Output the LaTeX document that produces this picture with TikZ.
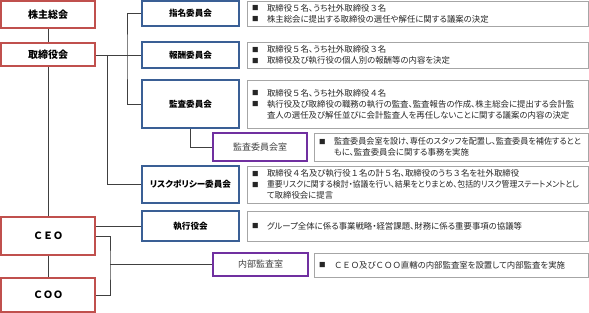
\documentclass[tikz,border=0pt]{standalone}
\usepackage{fontspec}
\setmainfont{Noto Sans CJK JP}[RawFeature=+palt]
\newfontfamily\widefont{Noto Sans CJK JP}
\usepackage{xcolor}
\usepackage{graphicx}
\usepackage{tikz}
\usetikzlibrary{positioning, calc}

\definecolor{orgred}{HTML}{C0504D}
\definecolor{orgblue}{HTML}{3A5F95}
\definecolor{orgpurple}{HTML}{7030A0}
\definecolor{descgray}{HTML}{A6A6A6}
\definecolor{linegray}{HTML}{404040}

\newcommand{\bul}{\makebox[15pt][l]{\raisebox{0.5pt}{\fontsize{6.5}{6.5}\selectfont ■}}}
\newcommand{\pad}{\hspace*{15pt}}
\newcommand{\zen}[1]{{\widefont #1}}

\begin{document}
\begin{tikzpicture}[
    x=1pt, y=-1pt,
    every node/.style={font=\fontsize{8.4}{11}\selectfont, inner sep=0pt},
    govbox/.style={rectangle, draw=orgred, line width=1.3pt, fill=white,
                   minimum width=94pt, align=center, font=\fontsize{10}{12}\selectfont\bfseries},
    cmtbox/.style={rectangle, draw=orgblue, line width=1.3pt, fill=white,
                   minimum width=97pt, align=center, font=\fontsize{8.6}{11}\selectfont\bfseries},
    staffbox/.style={rectangle, draw=orgpurple, line width=1.1pt, fill=white,
                     align=center, text=black!75, font=\fontsize{9}{11}\selectfont},
    descbox/.style={rectangle, draw=descgray, line width=0.7pt, fill=white, align=left,
                    inner xsep=5pt, text width=#1, text=black!85},
    descbox/.default=331pt,
    link/.style={draw=linegray, line width=0.9pt}
]
\useasboundingbox (0,0) rectangle (589,313);

% === Governance column ===
\node[govbox, minimum height=27pt] (agm) at (48, 14.5) {株主総会};
\node[govbox, minimum height=23pt] (bod) at (48, 54.5) {取締役会};
\node[govbox, minimum height=38pt] (ceo) at (48, 236) {\widefont ＣＥＯ};
\node[govbox, minimum height=34pt] (coo) at (48, 295) {\widefont ＣＯＯ};

\draw[link] (agm) -- (bod);
\draw[link] (bod) -- (ceo);
\draw[link] (ceo) -- (coo);

% === Committees ===
\node[cmtbox, minimum height=25pt] (nom) at (190.5, 13.5) {指名委員会};
\node[cmtbox, minimum height=26pt] (rem) at (190.5, 55) {報酬委員会};
\node[cmtbox, minimum height=48pt] (aud) at (190.5, 104) {監査委員会};
\node[cmtbox, minimum height=37pt] (risk) at (190.5, 184.5) {リスクポリシー委員会};
\node[cmtbox, minimum height=30pt] (exe) at (190.5, 226) {執行役会};

\node[staffbox, minimum width=94pt, minimum height=28pt] (audr) at (260, 147) {監査委員会室};
\node[staffbox, minimum width=95pt, minimum height=23pt] (iaud) at (260.5, 264.5) {内部監査室};

\coordinate (busA) at (127, 55);
\coordinate (busB) at (107, 55);
\coordinate (busC) at (110, 264.5);

\draw[link] (bod.east |- rem.west) -- (rem.west);
\draw[link] (nom.west) -| (busA) |- (aud.west);
\draw[link] (busB) |- (risk.west);
\draw[link] (aud.south) |- (audr.west);
\draw[link] (exe.west) -- (exe.west -| ceo.east);
\draw[link] (ceo.east) -| (busC) |- (coo.east);
\draw[link] (busC) -- (iaud.west);

% === Descriptions ===
\node[descbox, minimum height=25pt] (dnom) at (417.5, 13.5)
    {\bul 取締役\zen{５}名、うち社外取締役\zen{３}名\\
     \bul 株主総会に提出する取締役の選任や解任に関する議案の決定};
\node[descbox, minimum height=26pt] (drem) at (417.5, 55)
    {\bul 取締役\zen{５}名、うち社外取締役\zen{３}名\\
     \bul 取締役及び執行役の個人別の報酬等の内容を決定};
\node[descbox, minimum height=48pt] (daud) at (417.5, 104)
    {\bul 取締役\zen{５}名、うち社外取締役\zen{４}名\\
     \bul 執行役及び取締役の職務の執行の監査、監査報告の作成、株主総会に提出する会計監\\
     \pad 査人の選任及び解任並びに会計監査人を再任しないことに関する議案の内容の決定};
\node[descbox=264pt, minimum height=28pt] (daudr) at (451, 147)
    {\bul \resizebox{247pt}{\height}{監査委員会室を設け、専任のスタッフを配置し、監査委員を補佐するとと}\\
     \pad もに、監査委員会に関する事務を実施};
\node[descbox, minimum height=37pt] (drisk) at (417.5, 184.5)
    {\bul 取締役\zen{４}名及び執行役\zen{１}名の計\zen{５}名、取締役のうち\zen{３}名を社外取締役\\
     \bul \resizebox{312pt}{\height}{重要リスクに関する検討・協議を行い、結果をとりまとめ、包括的リスク管理ステートメントとし}\\
     \pad て取締役会に提言};
\node[descbox, minimum height=30pt] (dexe) at (417.5, 226)
    {\bul グループ全体に係る事業戦略・経営課題、財務に係る重要事項の協議等};
\node[descbox=264pt, minimum height=24pt] (diaud) at (451, 265)
    {\bul {\widefont ＣＥＯ}及び{\widefont ＣＯＯ}直轄の内部監査室を設置して内部監査を実施};

\end{tikzpicture}
\end{document}
